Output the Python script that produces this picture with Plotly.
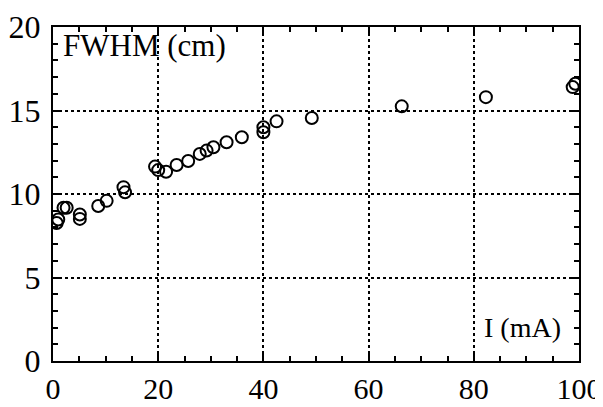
import plotly.graph_objects as go

current_mA = [0.7, 1.0, 2.0, 2.6, 5.1, 5.1, 8.6, 10.2, 13.4, 13.7,
              19.4, 20.0, 21.5, 23.5, 25.7, 27.9, 29.2, 30.5, 33.0, 35.9,
              40.0, 40.0, 42.5, 49.2, 66.3, 82.3, 98.8, 99.3]
fwhm_cm = [8.26, 8.47, 9.18, 9.18, 8.77, 8.51, 9.28, 9.59, 10.41, 10.1,
           11.64, 11.43, 11.33, 11.74, 11.98, 12.4, 12.6, 12.8, 13.1, 13.4,
           14.0, 13.7, 14.35, 14.55, 15.25, 15.8, 16.4, 16.6]

x_ticks = [0, 20, 40, 60, 80, 100]
y_ticks = [0, 5, 10, 15, 20]

font_family = "Liberation Serif, Times New Roman, serif"

fig = go.Figure()
fig.add_trace(go.Scatter(
    x=current_mA, y=fwhm_cm, mode="markers",
    marker=dict(symbol="circle-open", size=12, color="black", line=dict(width=2, color="black")),
    showlegend=False,
))

axis_common = dict(
    showline=True, linecolor="black", linewidth=2, mirror="ticks",
    ticks="inside", ticklen=9, tickwidth=1.5, tickcolor="black",
    showgrid=True, gridcolor="black", griddash="dot", gridwidth=1.5,
    zeroline=False, automargin=False,
)

fig.update_xaxes(range=[0, 100], tickvals=x_ticks, ticklabelstandoff=0,
                 tickfont=dict(family=font_family, size=30, color="black"),
                 minor=dict(dtick=5, ticks="inside", ticklen=5, tickcolor="black", tickwidth=1.5, showgrid=False),
                 **axis_common)
fig.update_yaxes(range=[0, 20], tickvals=y_ticks, ticklabelstandoff=4,
                 tickfont=dict(family=font_family, size=32, color="black"),
                 minor=dict(dtick=1, ticks="inside", ticklen=5, tickcolor="black", tickwidth=1.5, showgrid=False),
                 **axis_common)

fig.add_annotation(text="FWHM (cm)", xref="paper", yref="paper", x=0.015, y=0.946,
                   xanchor="left", yanchor="middle", showarrow=False,
                   font=dict(family=font_family, size=31, color="black"))
fig.add_annotation(text="I (mA)", xref="paper", yref="paper", x=0.97, y=0.10,
                   xanchor="right", yanchor="middle", showarrow=False,
                   font=dict(family=font_family, size=28, color="black"))

# page body has an 8px default margin, so the figure is sized/offset to compensate
fig.update_layout(
    width=595, height=399,
    margin=dict(l=45, r=24, t=19, b=46),
    plot_bgcolor="white", paper_bgcolor="white",
)

fig.write_html("out.html")
